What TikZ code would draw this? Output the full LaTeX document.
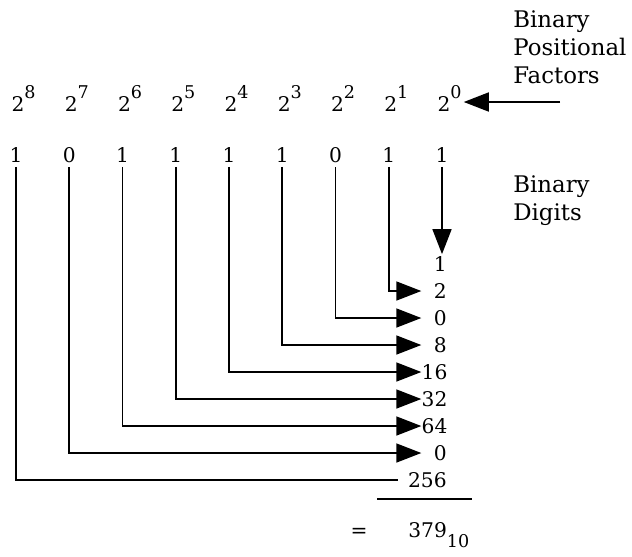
\documentclass[tikz,border=0pt]{standalone}
\usepackage{fontspec}
\setmainfont{DejaVu Serif}
\usetikzlibrary{arrows.meta}
\newcommand\twopow[1]{2\raisebox{7.4pt}{\fontsize{10}{12}\selectfont #1}}
\tikzset{
  num/.style={font=\fontsize{11.5}{14}\selectfont,inner sep=0pt},
  res/.style={num,text width=5mm,align=right,anchor=east},
  lbl/.style={font=\fontsize{13}{15.9}\selectfont,align=left,anchor=north west,inner sep=0pt},
  tip/.style={-{Triangle[length=5mm,width=3.8mm]}},
  conn/.style={line width=0.9pt}
}
\begin{document}
\begin{tikzpicture}[x=0.2mm,y=-0.2mm]
\useasboundingbox (0,0) rectangle (632,556);
\foreach \i/\d in {8/1,7/0,6/1,5/1,4/1,3/1,2/0,1/1,0/1} {
  \node[num,anchor=base west,inner xsep=1pt] (p\i) at (435.5-53.25*\i,111) {\twopow{\i}};
  \node[num,anchor=base,inner sep=2.5pt] (d\i) at (442-53.25*\i,162) {\d};
}
\node[lbl] (bpf) at (513,10) {Binary\\Positional\\Factors};
\node[lbl] (bd) at (513,175) {Binary\\Digits};
\coordinate (fa) at (560,102);
\draw[conn,tip] (fa) -- (fa -| p0.east);
\foreach \i/\v in {0/1,1/2,2/0,3/8,4/16,5/32,6/64,7/0}
  \node[res] (r\i) at (447,264+27*\i) {\v};
\node[num,anchor=east,inner xsep=2mm] (r8) at (457,480) {256};
\draw[conn,tip,shorten >=0.4mm] (d0.south) -- (d0.south |- r0.north);
\foreach \i in {1,...,7}
  \draw[conn,tip] (d\i.south) |- (r\i.west);
\draw[conn] (d8.south) |- (r8.west);
\coordinate (rl) at (377,499);
\coordinate (rr) at (472,499);
\draw[conn] (rl) -- (rr);
\node[num] (eq) at (359,533) {=};
\node[num,anchor=west] (tot) at (408,535) {379\raisebox{-5.7pt}{\fontsize{10}{12}\selectfont 10}};
\end{tikzpicture}
\end{document}
